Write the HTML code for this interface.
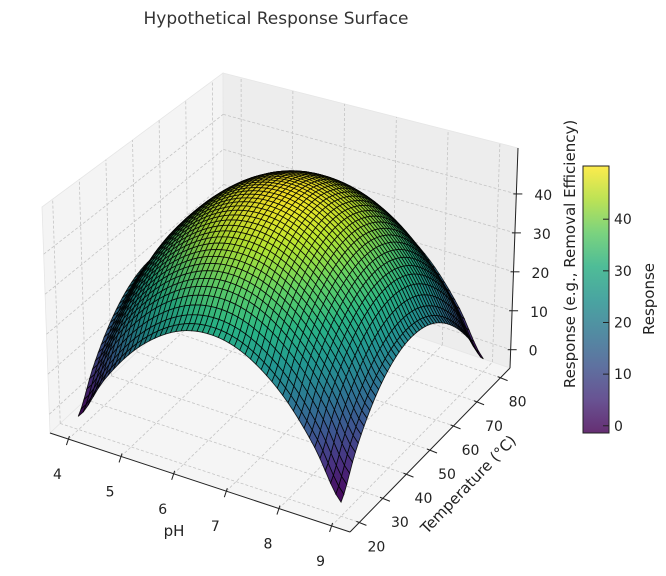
<!DOCTYPE html>
<html><head><meta charset="utf-8">
<style>
html,body{margin:0;padding:0;background:#fff;}
svg{display:block;font-family:"DejaVu Sans","Liberation Sans",sans-serif;}
</style></head>
<body>
<svg id="chart" width="666" height="576" viewBox="0 0 666 576" xmlns="http://www.w3.org/2000/svg">
  <defs>
    <linearGradient id="viridis" x1="0" y1="1" x2="0" y2="0">
      <stop offset="0" stop-color="#440154"/><stop offset="0.125" stop-color="#472d7b"/>
      <stop offset="0.25" stop-color="#3b528b"/><stop offset="0.375" stop-color="#2c728e"/>
      <stop offset="0.5" stop-color="#21918c"/><stop offset="0.625" stop-color="#28ae80"/>
      <stop offset="0.75" stop-color="#5ec962"/><stop offset="0.875" stop-color="#addc30"/>
      <stop offset="1" stop-color="#fde725"/>
    </linearGradient>
  </defs>
  <text x="276" y="24" font-size="17" fill="#333" text-anchor="middle">Hypothetical Response Surface</text>
  <g id="panes"></g>
  <g id="grid"></g>
  <g id="surface"></g>
  <g id="axes"></g>
  <text x="174" y="536" font-size="15" fill="#222" text-anchor="middle">pH</text>
  <text x="0" y="0" font-size="15" fill="#222" text-anchor="middle" transform="translate(472,488) rotate(-46)">Temperature (°C)</text>
  <text x="0" y="0" font-size="15" fill="#222" text-anchor="middle" transform="translate(575,254) rotate(-90)">Response (e.g., Removal Efficiency)</text>
  <g id="colorbar">
    <rect x="583" y="166" width="26" height="267" fill="url(#viridis)" fill-opacity="0.82" stroke="#222" stroke-width="1"/>
  </g>
  <text x="0" y="0" font-size="15" fill="#222" text-anchor="middle" transform="translate(654,299) rotate(-90)">Response</text>
</svg>
<script>
const phValues = [4,4.5,5,5.5,6,6.5,7,7.5,8,8.5,9];
const tempValues = [20,26,32,38,44,50,56,62,68,74,80];
const responseRow0 = [-1.4,7.0,13.6,18.3,21.1,22.0,21.1,18.3,13.6,7.0,-1.4];
const responseRow1 = [9.5,17.7,24.0,28.6,31.3,32.2,31.3,28.6,24.0,17.7,9.5];
const responseRow2 = [18.1,26.0,32.2,36.6,39.2,40.1,39.2,36.6,32.2,26.0,18.1];
const responseRow3 = [24.1,31.9,38.0,42.3,44.9,45.8,44.9,42.3,38.0,31.9,24.1];
const responseRow4 = [27.8,35.5,41.5,45.8,48.3,49.2,48.3,45.8,41.5,35.5,27.8];
const responseRow5 = [29.0,36.7,42.6,46.9,49.4,50.3,49.4,46.9,42.6,36.7,29.0];
const responseGrid = [responseRow0,responseRow1,responseRow2,responseRow3,responseRow4,responseRow5,
  responseRow4.slice(),responseRow3.slice(),responseRow2.slice(),responseRow1.slice(),responseRow0.slice()];
const phTicks = [4,5,6,7,8,9];
const tempTicks = [20,30,40,50,60,70,80];
const zTicks = [0,10,20,30,40];
const cbTicks = [0,10,20,30,40];

const NS = "http://www.w3.org/2000/svg";
function mk(tag, attrs, parent){const e=document.createElementNS(NS,tag);for(const k in attrs)e.setAttribute(k,attrs[k]);parent.appendChild(e);return e;}

const PH0=3.65, PH1=9.35, T0=16, T1=84, Z0=-4.7, Z1=51.8;
const uOf=p=>(p-PH0)/(PH1-PH0), vOf=t=>(t-T0)/(T1-T0), fOf=z=>(z-Z0)/(Z1-Z0);
const A=[50,433],B=[350,532],C=[510,368],D=[224,271];
const H=[226,244,220,198], DX=[-8,0,8,-1];
function bil(a,b,c,d,u,v){return (1-u)*(1-v)*a+u*(1-v)*b+u*v*c+(1-u)*v*d;}
function proj(u,v,f){
  const bx=bil(A[0],B[0],C[0],D[0],u,v), by=bil(A[1],B[1],C[1],D[1],u,v);
  const h=bil(H[0],H[1],H[2],H[3],u,v), dx=bil(DX[0],DX[1],DX[2],DX[3],u,v);
  return [bx+f*dx, by-f*h, by, f*h];
}
const P=(u,v,f)=>{const p=proj(u,v,f);return p[0].toFixed(2)+","+p[1].toFixed(2);};

const panes=document.getElementById('panes');
let e;
e=mk('polygon',{points:[P(0,0,0),P(0,1,0),P(0,1,1),P(0,0,1)].join(' '),fill:'#f4f4f4',stroke:'#e6e6e6','stroke-width':0.8},panes);


e=mk('polygon',{points:[P(0,1,0),P(1,1,0),P(1,1,1),P(0,1,1)].join(' '),fill:'#ededed',stroke:'#e6e6e6','stroke-width':0.8},panes);


e=mk('polygon',{points:[P(0,0,0),P(1,0,0),P(1,1,0),P(0,1,0)].join(' '),fill:'#f5f5f5',stroke:'#e6e6e6','stroke-width':0.8},panes);



const grid=document.getElementById('grid');
function gl(p,q,name){const l=mk('line',{x1:p[0],y1:p[1],x2:q[0],y2:q[1],stroke:'#c4c4c4','stroke-width':0.8,'stroke-dasharray':'3,2'},grid);

}
phTicks.forEach(p=>{const u=uOf(p);gl(proj(u,0,0),proj(u,1,0),'floor-grid-ph');gl(proj(u,1,0),proj(u,1,1),'back-grid-ph');});
tempTicks.forEach(t=>{const v=vOf(t);gl(proj(0,v,0),proj(1,v,0),'floor-grid-temp');gl(proj(0,v,0),proj(0,v,1),'left-grid-temp');});
zTicks.forEach(z=>{const f=fOf(z);gl(proj(0,0,f),proj(0,1,f),'left-grid-z');gl(proj(0,1,f),proj(1,1,f),'back-grid-z');});

const VIR=[[68,1,84],[71,45,123],[59,82,139],[44,114,142],[33,145,140],[40,174,128],[94,201,98],[173,220,48],[253,231,37]];
function viridis(t){t=Math.max(0,Math.min(1,t));const s=t*8,i=Math.min(7,Math.floor(s)),r=s-i;return VIR[i].map((c,k)=>c+(VIR[i+1][k]-c)*r);}

function cr(p0,p1,p2,p3,t){return 0.5*(2*p1+(-p0+p2)*t+(2*p0-5*p1+4*p2-p3)*t*t+(-p0+3*p1-3*p2+p3)*t*t*t);}
const NI=phValues.length, NJ=tempValues.length;
const g=(i,j)=>responseGrid[Math.max(0,Math.min(NI-1,i))][Math.max(0,Math.min(NJ-1,j))];
function zAt(si,sj){
  let i=Math.min(NI-2,Math.floor(si)), j=Math.min(NJ-2,Math.floor(sj));
  const ti=si-i, tj=sj-j;
  const rows=[];
  for(let a=-1;a<=2;a++) rows.push(cr(g(i+a,j-1),g(i+a,j),g(i+a,j+1),g(i+a,j+2),tj));
  return cr(rows[0],rows[1],rows[2],rows[3],ti);
}
function lin(arr,s){const i=Math.min(arr.length-2,Math.floor(s));return arr[i]+(arr[i+1]-arr[i])*(s-i);}

let vmin=Infinity,vmax=-Infinity;
responseGrid.forEach(r=>r.forEach(z=>{vmin=Math.min(vmin,z);vmax=Math.max(vmax,z);}));

const SUB=5, M=(NI-1)*SUB, N=(NJ-1)*SUB;
const nodes=[];
for(let a=0;a<=M;a++){nodes.push([]);for(let b=0;b<=N;b++){
  const si=a/SUB, sj=b/SUB, z=zAt(si,sj);
  const u=uOf(lin(phValues,si)), v=vOf(lin(tempValues,sj)), f=fOf(z);
  nodes[a].push({u,v,f,z,p:proj(u,v,f)});
}}
const L=(()=>{const l=[1,-1,0.7];const n=Math.hypot(...l);return l.map(x=>x/n);})();
const faces=[];
for(let a=0;a<M;a++)for(let b=0;b<N;b++){
  const n00=nodes[a][b],n10=nodes[a+1][b],n11=nodes[a+1][b+1],n01=nodes[a][b+1];
  const zm=(n00.z+n10.z+n11.z+n01.z)/4;
  const du=n10.u-n00.u, dv=n01.v-n00.v;
  const dzu=((n10.f+n11.f)-(n00.f+n01.f))/2*0.75/du, dzv=((n01.f+n11.f)-(n00.f+n10.f))/2*0.75/dv;
  let nx=-dzu,ny=-dzv,nz=1;const nn=Math.hypot(nx,ny,nz);nx/=nn;ny/=nn;nz/=nn;
  const d=nx*L[0]+ny*L[1]+nz*L[2];
  const sh=Math.min(1.04,0.5+0.58*(d+1)/2);
  const col=viridis((zm-vmin)/(vmax-vmin)).map(c=>Math.round(c*sh));
  const by=(n00.p[2]+n10.p[2]+n11.p[2]+n01.p[2])/4, zp=(n00.p[3]+n10.p[3]+n11.p[3]+n01.p[3])/4;
  faces.push({pts:[n00,n10,n11,n01].map(n=>n.p[0].toFixed(2)+","+n.p[1].toFixed(2)).join(' '),col,depth:by*1.732+zp*0.577});
}
faces.sort((x,y)=>x.depth-y.depth);
const surf=document.getElementById('surface');
faces.forEach(fc=>{
  const c=fc.col.map(x=>Math.max(0,Math.min(255,x)));
  const poly=mk('polygon',{points:fc.pts,fill:`rgb(${c[0]},${c[1]},${c[2]})`,stroke:'#000','stroke-width':0.85,'stroke-opacity':0.85},surf);
  
  
});

const axes=document.getElementById('axes');
function line(p,q,name,w){const l=mk('line',{x1:p[0],y1:p[1],x2:q[0],y2:q[1],stroke:'#222','stroke-width':w||1},axes);

return l;}
function txt(x,y,s,name,anchor){const t=mk('text',{x:x,y:y,'font-size':14,fill:'#222','text-anchor':anchor||'middle'},axes);t.textContent=s;

return t;}
const add=(p,dx,dy)=>[p[0]+dx,p[1]+dy];
line(proj(0,0,0),proj(1,0,0),'x-axis-line');
line(proj(1,0,0),proj(1,1,0),'y-axis-line');
line(proj(1,1,0),proj(1,1,1),'z-axis-line');
phTicks.forEach(p=>{const b=proj(uOf(p),0,0);line(add(b,1,-3),add(b,-2,6),'x-tick');txt(b[0]-11,b[1]+40,String(p),'x-tick-label');});
tempTicks.forEach(t=>{const b=proj(1,vOf(t),0);line(add(b,-3,-1),add(b,7,3),'y-tick');txt(b[0]+17,b[1]+29,String(t),'y-tick-label');});
zTicks.forEach(z=>{const b=proj(1,1,fOf(z));line(add(b,-3,0),add(b,6,0),'z-tick');txt(b[0]+18,b[1]+6,String(z),'z-tick-label','start');});

const cb=document.getElementById('colorbar');
const cbY=z=>433-(z-vmin)/(vmax-vmin)*267;
cbTicks.forEach(z=>{const y=cbY(z);
  const l=mk('line',{x1:603,y1:y,x2:609,y2:y,stroke:'#222','stroke-width':1},cb);
  
  
  const t=mk('text',{x:614,y:y+5,'font-size':14,fill:'#222'},cb);t.textContent=String(z);
  
  
});
</script>
</body></html>
